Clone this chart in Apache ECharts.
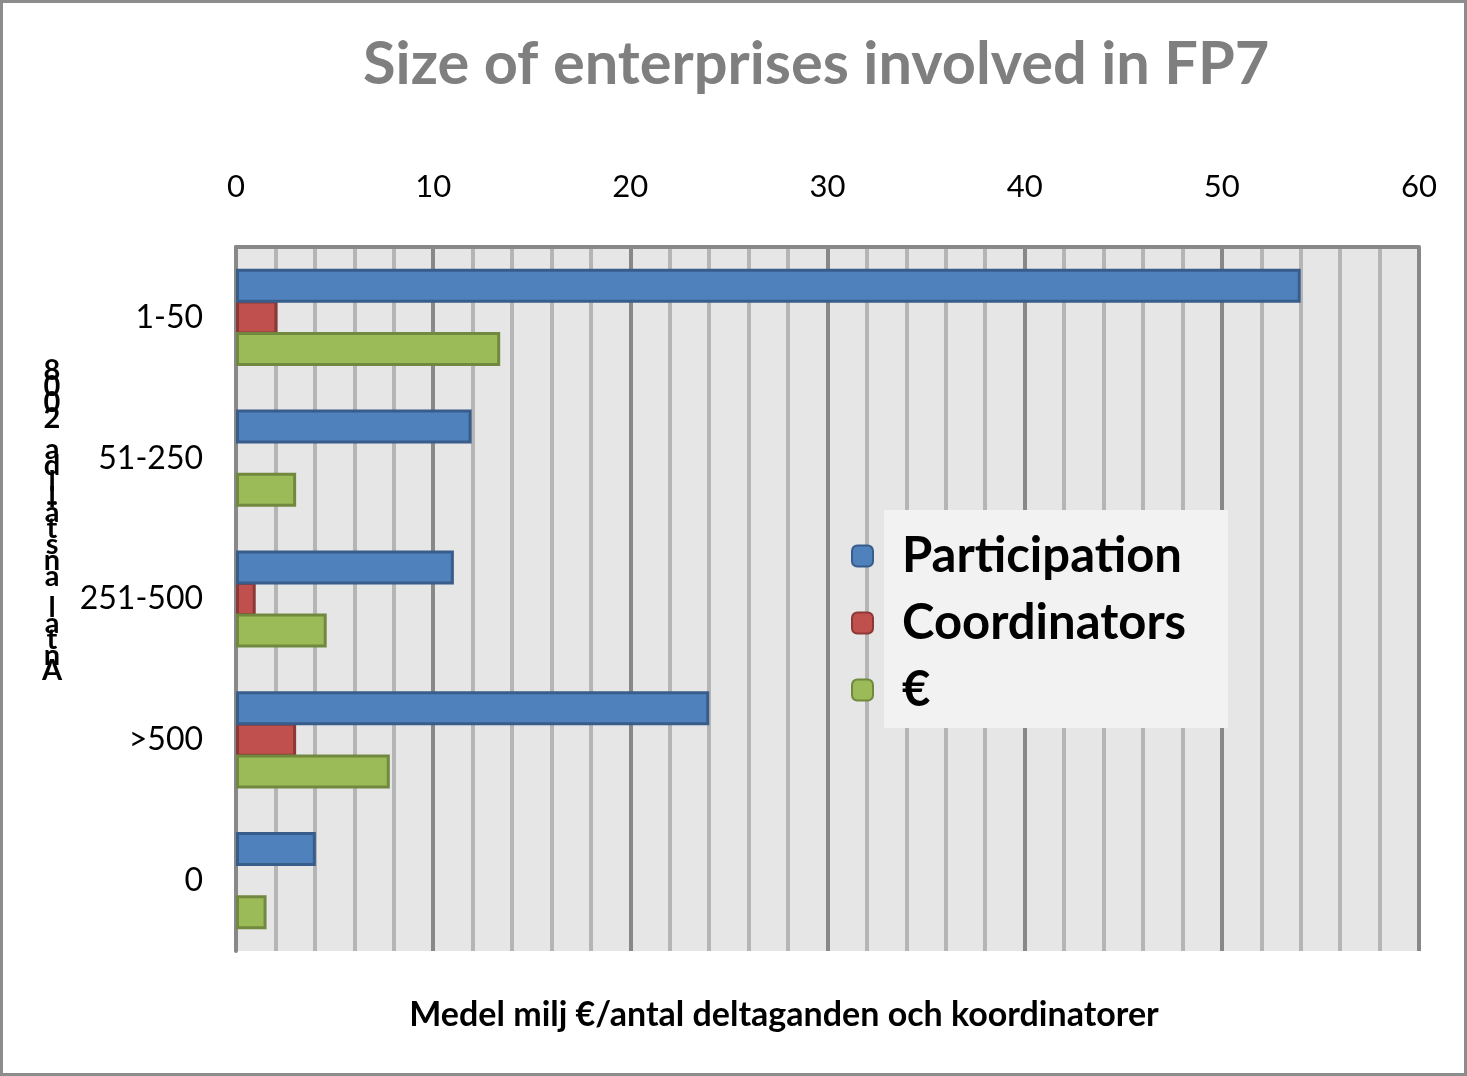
<!DOCTYPE html>
<html lang="en">
  <head>
    <meta charset="UTF-8" />
    <title>Size of enterprises involved in FP7</title>
    <script src="https://cdn.jsdelivr.net/npm/echarts@6/dist/echarts.min.js"></script>
    <style>
      html, body { margin: 0; padding: 0; background: #fff; }
      #main { width: 1467px; height: 1076px; }
    </style>
  </head>
  <body>
    <div id="main"></div>
    <script type="text/javascript">
      // data
      var categories = ["1-50", "51-250", "251-500", ">500", "0"];
      var participation = [54, 11.95, 11.05, 24, 4.05];
      var coordinators = [2.1, null, 1.0, 3.05, null]; // no bar drawn for these two
      var euro = [13.4, 3.05, 4.6, 7.8, 1.55];
      var seriesNames = ["Participation", "Coordinators", "€"];
      var yAxisTitle = "Antal anställda 2008";
      var xAxisTitle = "Medel milj €/antal deltaganden och koordinatorer";

      var FONT = "Lato";
      var myChart = echarts.init(document.getElementById("main"));

      // stacked letters, read bottom to top
      var stacked = yAxisTitle.split("").reverse().join("\n");

      function bar(name, data, fill, border, z) {
        return {
          name: name,
          type: "bar",
          data: data,
          z: z,
          barWidth: 34,
          barGap: "-7%",
          itemStyle: { color: fill, borderColor: border, borderWidth: 3 }
        };
      }

      var option = {
        animation: false,
        textStyle: { fontFamily: FONT },
        title: {
          text: "Size of enterprises involved in FP7",
          left: 363,
          top: 35,
          padding: 0,
          textStyle: { fontFamily: FONT, fontSize: 59.5, fontWeight: "bold", color: "#7f7f7f" }
        },
        legend: {
          orient: "vertical",
          left: 851,
          top: 531,
          padding: 0,
          itemWidth: 21,
          itemHeight: 21,
          itemGap: 17,
          z: 10,
          data: seriesNames,
          textStyle: {
            fontFamily: FONT,
            fontSize: 49,
            fontWeight: "bold",
            color: "#000",
            lineHeight: 50,
            padding: [0, 0, 0, 24]
          }
        },
        grid: {
          left: 236,
          right: 48,
          top: 247,
          bottom: 125,
          show: true,
          backgroundColor: "#e6e6e6",
          borderWidth: 0
        },
        xAxis: {
          type: "value",
          position: "top",
          min: 0,
          max: 60,
          interval: 10,
          axisLine: { show: true, lineStyle: { color: "#888", width: 4 } },
          axisTick: { show: false },
          axisLabel: { margin: 45, fontSize: 31, color: "#000", fontFamily: FONT },
          splitLine: { show: true, lineStyle: { color: "#888", width: 4 } },
          minorTick: { show: false, splitNumber: 5 },
          minorSplitLine: { show: true, lineStyle: { color: "#b5b5b5", width: 4 } }
        },
        yAxis: {
          type: "category",
          data: categories,
          inverse: true,
          axisLine: { show: true, lineStyle: { color: "#888", width: 4 } },
          axisTick: { show: false },
          axisLabel: { margin: 33, fontSize: 32, color: "#000", fontFamily: FONT },
          splitLine: { show: false }
        },
        graphic: [
          {
            type: "rect",
            z: -1,
            shape: { x: 1.5, y: 1.5, width: 1464, height: 1073 },
            style: { fill: null, stroke: "#8c8c8c", lineWidth: 3 }
          },
          {
            type: "rect",
            z: 5,
            shape: { x: 884, y: 510, width: 344, height: 218 },
            style: { fill: "#f2f2f2" }
          },
          {
            type: "text",
            z: 5,
            x: 52,
            y: 521,
            style: {
              text: stacked,
              fontFamily: FONT,
              fontSize: 29,
              fontWeight: "bold",
              lineHeight: 15.8,
              align: "center",
              verticalAlign: "middle",
              fill: "#000"
            }
          },
          {
            type: "text",
            z: 5,
            x: 784,
            y: 1015,
            style: {
              text: xAxisTitle,
              fontFamily: FONT,
              fontSize: 34,
              fontWeight: "bold",
              align: "center",
              verticalAlign: "middle",
              fill: "#000"
            }
          }
        ],
        series: [
          bar(seriesNames[0], participation, "#4f81bd", "#385d8a", 3),
          bar(seriesNames[1], coordinators, "#c0504d", "#8c3836", 2),
          bar(seriesNames[2], euro, "#9bbb59", "#71893f", 2)
        ]
      };
      myChart.setOption(option);
    </script>
  </body>
</html>
